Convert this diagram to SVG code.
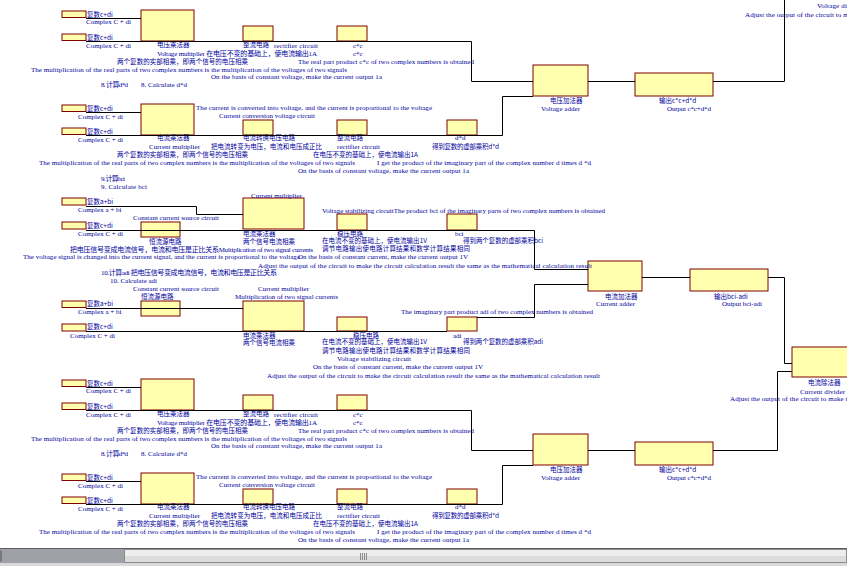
<svg xmlns="http://www.w3.org/2000/svg" width="847" height="566" viewBox="0 0 847 566">
<style>
.n{fill:#ffffad;stroke:#7f0000;stroke-width:1}
.t{font-family:"Liberation Serif","Noto Sans CJK SC",serif;font-size:7px;fill:#00009c}
.c{font-family:"Noto Sans CJK SC","Liberation Serif",sans-serif;font-size:6.5px;fill:#00009c}
.w{fill:none;stroke:#000;stroke-width:1}
</style>
<rect width="847" height="566" fill="#fff"/>
<defs>
<g id="secAB">
  <g id="in1"><rect class="n" x="62" y="11" width="24" height="6.5"/><text class="c" x="87" y="17">复数c+di</text><text class="t" x="86" y="24">Complex C + di</text></g>
  <g id="in2"><rect class="n" x="62" y="34" width="24" height="6.5"/><text class="c" x="87" y="40">复数c+di</text><text class="t" x="86" y="47.5">Complex C + di</text></g>
  <g id="vmul"><rect class="n" x="141" y="10" width="53" height="31"/><text class="c" x="157" y="47">电压乘法器</text></g>
  <g id="rect1"><rect class="n" x="243" y="26" width="30" height="15"/><text class="c" x="243" y="47">整流电路</text></g>
  <g id="cc"><rect class="n" x="337" y="26" width="30" height="15"/><text class="t" x="353" y="48">c*c</text><text class="t" x="353" y="56">c*c</text></g>
  <g id="vadd"><rect class="n" x="533" y="65" width="55" height="31"/><text class="c" x="550" y="102.5">电压加法器</text><text class="t" x="541" y="110.5" textLength="39">Voltage adder</text></g>
  <g id="out1"><rect class="n" x="635" y="73" width="78" height="23"/><text class="c" x="659" y="102.5">输出c*c+d*d</text><text class="t" x="667" y="110.5" textLength="44">Output c*c+d*d</text></g>
  <g id="in3"><rect class="n" x="62" y="105" width="24" height="6.5"/><text class="c" x="87" y="110.5">复数c+di</text><text class="t" x="78" y="118.5">Complex C + di</text></g>
  <g id="in4"><rect class="n" x="62" y="128" width="24" height="6.5"/><text class="c" x="87" y="134">复数c+di</text><text class="t" x="78" y="141.5">Complex C + di</text></g>
  <g id="cmul"><rect class="n" x="141" y="104" width="53" height="31"/><text class="c" x="157" y="140">电流乘法器</text></g>
  <g id="i2v"><rect class="n" x="243" y="120" width="30" height="15"/><text class="c" x="243" y="140" textLength="52">电流转换电压电路</text></g>
  <g id="rect2"><rect class="n" x="337" y="120" width="30" height="15"/><text class="c" x="337" y="140">整流电路</text></g>
  <g id="dd"><rect class="n" x="447" y="120" width="30" height="15"/><text class="t" x="455" y="140">d*d</text></g>
  <g class="labels">
    <text class="t" x="274" y="48" textLength="44">rectifier circuit</text>
    <text class="t" x="157" y="55.5" textLength="160">Voltage multiplier 在电压不变的基础上，使电流输出1A</text>
    <text class="c" x="117" y="63.5" textLength="131">两个复数的实部相乘，即两个信号的电压相乘</text>
    <text class="t" x="298" y="63.5" textLength="176">The real part product c*c of two complex numbers is obtained</text>
    <text class="t" x="31" y="71.5" textLength="316">The multiplication of the real parts of two complex numbers is the multiplication of the voltages of two signals</text>
    <text class="t" x="211" y="79" textLength="171">On the basis of constant voltage, make the current output 1a</text>
    <text class="t" x="101" y="87" textLength="27">8. 计算d*d</text>
    <text class="t" x="141" y="87" textLength="46">8. Calculate d*d</text>
    <text class="t" x="196" y="110" textLength="236">The current is converted into voltage, and the current is proportional to the voltage</text>
    <text class="t" x="219" y="118" textLength="96">Current conversion voltage circuit</text>
    <text class="t" x="149" y="149" textLength="51">Current multiplier</text>
    <text class="c" x="211" y="149" textLength="111">把电流转变为电压，电流和电压成正比</text>
    <text class="t" x="337" y="149" textLength="43">rectifier circuit</text>
    <text class="c" x="432" y="149" textLength="67">得到复数的虚部乘积d*d</text>
    <text class="c" x="117" y="156.5" textLength="131">两个复数的实部相乘，即两个信号的电压相乘</text>
    <text class="c" x="313" y="156.5" textLength="105">在电压不变的基础上，使电流输出1A</text>
    <text class="t" x="39" y="165" textLength="316">The multiplication of the real parts of two complex numbers is the multiplication of the voltages of two signals</text>
    <text class="t" x="377" y="165" textLength="214">I get the product of the imaginary part of the complex number d times d *d</text>
    <text class="t" x="298" y="173" textLength="171">On the basis of constant voltage, make the current output 1a</text>
  </g>
</g>
</defs>
<g id="sectionTop"><use href="#secAB"/></g>
<g id="sectionBottom" transform="translate(0,369)"><use href="#secAB"/></g>
<g id="labels9">
  <text class="t" x="101" y="181" textLength="24">9. 计算bci</text>
  <text class="t" x="101" y="188.5" textLength="46">9. Calculate bci</text>
</g>
<g id="topDividerLabels">
  <text class="t" x="817" y="8" textLength="45">Voltage divider</text>
  <text class="t" x="745" y="16.5" textLength="334">Adjust the output of the circuit to make the circuit calculation result the same as the mathematical calculation result</text>
</g>
<g id="sectionC">
  <g id="inA1"><rect class="n" x="62" y="198" width="24" height="7"/><text class="c" x="87" y="203.5">复数a+bi</text><text class="t" x="78" y="212">Complex a + bi</text></g>
  <g id="inC1"><rect class="n" x="62" y="222" width="24" height="7"/><text class="c" x="87" y="228">复数c+di</text><text class="t" x="78" y="236">Complex C + di</text></g>
  <g id="ccs1"><rect class="n" x="141" y="222" width="39" height="15"/><text class="c" x="149" y="244">恒流源电路</text></g>
  <g id="imul1"><rect class="n" x="243" y="198" width="61" height="31"/><text class="t" x="251" y="197.5" textLength="51">Current multiplier</text><text class="c" x="243" y="236">电流乘法器</text><text class="c" x="243" y="244">两个信号电流相乘</text></g>
  <g id="vs1"><rect class="n" x="337" y="214" width="30" height="16"/><text class="c" x="337" y="236">稳压电路</text></g>
  <g id="bci"><rect class="n" x="447" y="214" width="30" height="16"/><text class="t" x="455" y="236">bci</text></g>
  <g id="inA2"><rect class="n" x="62" y="301" width="24" height="6.5"/><text class="c" x="87" y="306">复数a+bi</text><text class="t" x="78" y="314">Complex a + bi</text></g>
  <g id="inC2"><rect class="n" x="62" y="324" width="24" height="7"/><text class="c" x="87" y="329">复数c+di</text><text class="t" x="70" y="338">Complex C + di</text></g>
  <g id="ccs2"><rect class="n" x="141" y="301" width="39" height="15"/><text class="c" x="141" y="299">恒流源电路</text></g>
  <g id="imul2"><rect class="n" x="243" y="301" width="61" height="30"/><text class="c" x="243" y="337.5">电流乘法器</text><text class="c" x="243" y="345">两个信号电流相乘</text></g>
  <g id="vs2"><rect class="n" x="337" y="317" width="30" height="14"/><text class="c" x="353" y="337.5">稳压电路</text></g>
  <g id="adi"><rect class="n" x="447" y="317" width="30" height="14"/><text class="t" x="453" y="337.5">adi</text></g>
  <g id="iadd"><rect class="n" x="588" y="261" width="54" height="30"/><text class="c" x="605" y="298.5">电流加法器</text><text class="t" x="596" y="306" textLength="39">Current adder</text></g>
  <g id="out2"><rect class="n" x="690" y="269" width="78" height="22"/><text class="c" x="714" y="298.5">输出bci-adi</text><text class="t" x="722" y="306" textLength="40">Output bci-adi</text></g>
  <g id="idiv"><rect class="n" x="792" y="347" width="60" height="30"/><text class="c" x="808" y="385">电流除法器</text><text class="t" x="800" y="393.5" textLength="45">Current divider</text></g>
  <g class="labels">
    <text class="t" x="133" y="220" textLength="86">Constant current source circuit</text>
    <text class="t" x="322" y="212.5" textLength="283">Voltage stabilizing circuitThe product bci of the imaginary parts of two complex numbers is obtained</text>
    <text class="c" x="322" y="242.5" textLength="105">在电流不变的基础上，使电流输出1V</text>
    <text class="c" x="463" y="242.5" textLength="80">得到两个复数的虚部乘积bci</text>
    <text class="t" x="70" y="251.5" textLength="243">把电压信号变成电流信号，电流和电压是正比关系Multiplication of two signal currents</text>
    <text class="c" x="322" y="251" textLength="148">调节电路输出使电路计算结果和数学计算结果相同</text>
    <text class="t" x="23" y="259" textLength="277">The voltage signal is changed into the current signal, and the current is proportional to the voltage</text>
    <text class="t" x="298" y="259" textLength="170">On the basis of constant current, make the current output 1V</text>
    <text class="t" x="258" y="267.5" textLength="334">Adjust the output of the circuit to make the circuit calculation result the same as the mathematical calculation result</text>
    <text class="t" x="101" y="275" textLength="176">10.计算adi 把电压信号变成电流信号，电流和电压是正比关系</text>
    <text class="t" x="110" y="283" textLength="47">10. Calculate adi</text>
    <text class="t" x="133" y="291" textLength="86">Constant current source circuit</text>
    <text class="t" x="258" y="291" textLength="51">Current multiplier</text>
    <text class="t" x="235" y="299" textLength="103">Multiplication of two signal currents</text>
    <text class="t" x="401" y="314" textLength="192">The imaginary part product adi of two complex numbers is obtained</text>
    <text class="c" x="322" y="344" textLength="105">在电流不变的基础上，使电流输出1V</text>
    <text class="c" x="463" y="344" textLength="80">得到两个复数的虚部乘积adi</text>
    <text class="c" x="322" y="352.5" textLength="148">调节电路输出使电路计算结果和数学计算结果相同</text>
    <text class="t" x="337" y="361" textLength="74">Voltage stabilizing circuit</text>
    <text class="t" x="313" y="369" textLength="170">On the basis of constant current, make the current output 1V</text>
    <text class="t" x="267" y="377.5" textLength="333">Adjust the output of the circuit to make the circuit calculation result the same as the mathematical calculation result</text>
    <text class="t" x="730" y="401" textLength="334">Adjust the output of the circuit to make the circuit calculation result the same as the mathematical calculation result</text>
  </g>
</g>
<g id="connectors">
  <path class="w" d="M86 18.5H141"/>
  <path class="w" d="M86 41.5H471.5V81.5H533"/>
  <path class="w" d="M588 81.5H635"/>
  <path class="w" d="M713 81.5H784.5V0"/>
  <path class="w" d="M86 112.5H141"/>
  <path class="w" d="M86 135.5H502.5V96.5H533"/>
  <path class="w" d="M86 206.5H196.5V214.5H243"/>
  <path class="w" d="M86 230.5H534.5V269.5H588"/>
  <path class="w" d="M86 308.5H243"/>
  <path class="w" d="M86 331.5H447"/>
  <path class="w" d="M477 317.5H534.5V284.5H588"/>
  <path class="w" d="M642 277.5H690"/>
  <path class="w" d="M768 277.5H784.5V363.5H792"/>
  <path class="w" d="M86 387.5H141"/>
  <path class="w" d="M86 410.5H471.5V450.5H533"/>
  <path class="w" d="M588 450.5H635"/>
  <path class="w" d="M713 450.5H777.5V371.5H792"/>
  <path class="w" d="M86 481.5H141"/>
  <path class="w" d="M86 504.5H502.5V465.5H533"/>
</g>
<g id="scrollbar">
  <rect x="0" y="548" width="847" height="18" fill="#c4c6c9"/>
  <rect x="0" y="548" width="847" height="1" fill="#5e5e5e"/>
  <rect x="0" y="549" width="124" height="14" fill="#9ea1a5"/>
  <rect x="0.5" y="550.5" width="1" height="11" fill="#555"/>
  <rect x="124.5" y="549.5" width="722" height="13" fill="#ededed" stroke="#8c8c8c"/>
  <rect x="125" y="556" width="721" height="6" fill="#dcdcdc"/>
  <path d="M360.5 553V560M362.5 553V560M364.5 553V560M366.5 553V560" stroke="#8a8a8a" stroke-width="1"/>
  <rect x="0" y="563" width="847" height="3" fill="#d9d9d9"/>
</g>
</svg>
